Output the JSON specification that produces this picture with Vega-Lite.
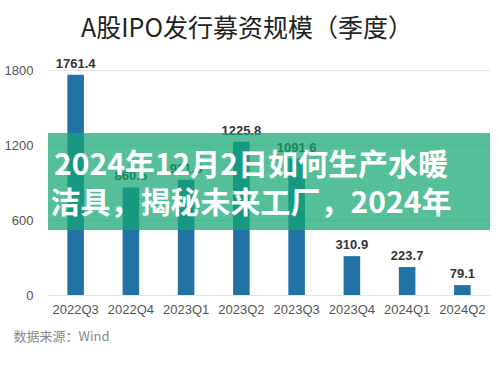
{
  "$schema": "https://vega.github.io/schema/vega-lite/v6.json",
  "width": 442,
  "height": 225,
  "autosize": "none",
  "padding": {"left": 48, "top": 70, "right": 9, "bottom": 70},
  "background": "white",
  "title": {
    "text": "A股IPO发行募资规模（季度）",
    "font": "Noto Sans CJK SC",
    "fontSize": 25,
    "fontWeight": "normal",
    "color": "#222222",
    "anchor": "middle",
    "frame": "bounds",
    "offset": 16
  },
  "config": {
    "view": {"stroke": null},
    "font": "Liberation Sans"
  },
  "layer": [
    {
      "data": {
        "values": [
          {"quarter": "2022Q3", "amount": 1761.4},
          {"quarter": "2022Q4", "amount": 860.5},
          {"quarter": "2023Q1", "amount": 921.6},
          {"quarter": "2023Q2", "amount": 1225.8},
          {"quarter": "2023Q3", "amount": 1091.6},
          {"quarter": "2023Q4", "amount": 310.9},
          {"quarter": "2024Q1", "amount": 223.7},
          {"quarter": "2024Q2", "amount": 79.1}
        ]
      },
      "encoding": {
        "x": {
          "field": "quarter",
          "type": "ordinal",
          "sort": null,
          "scale": {"paddingInner": 0.7, "paddingOuter": 0.35},
          "axis": {
            "labelAngle": 0,
            "labelFontSize": 13,
            "labelColor": "#555555",
            "labelPadding": 8,
            "ticks": false,
            "domain": false,
            "title": "数据来源：Wind",
            "titleFont": "Noto Sans CJK SC",
            "titleFontSize": 13,
            "titleFontWeight": "normal",
            "titleColor": "#8a8a8a",
            "titleAnchor": "start",
            "titleAlign": "left",
            "titleX": -35,
            "titlePadding": 14
          }
        },
        "y": {
          "field": "amount",
          "type": "quantitative",
          "scale": {"domain": [0, 1800], "nice": false},
          "axis": {
            "values": [0, 600, 1200, 1800],
            "format": "d",
            "title": null,
            "domain": false,
            "ticks": false,
            "labelPadding": 15,
            "labelFontSize": 13,
            "labelColor": "#555555",
            "gridColor": "#e3e3e3",
            "gridWidth": 1.2
          }
        }
      },
      "layer": [
        {"mark": {"type": "bar", "color": "#2372a6"}},
        {
          "mark": {"type": "text", "baseline": "bottom", "dy": -4, "fontSize": 13, "fontWeight": "bold", "color": "#333333"},
          "encoding": {"text": {"field": "amount", "type": "quantitative", "format": ".1f"}}
        }
      ]
    },
    {
      "data": {"values": [{"line1": "2024年12月2日如何生产水暖", "line2": "洁具，揭秘未来工厂，2024年"}]},
      "layer": [
        {
          "mark": {"type": "rect", "color": "#14a672", "opacity": 0.72},
          "encoding": {
            "y": {"datum": 1296},
            "y2": {"datum": 520}
          }
        },
        {
          "mark": {"type": "text", "font": "Noto Sans CJK SC", "fontWeight": "bold", "fontSize": 30, "color": "white", "baseline": "middle", "align": "center", "dx": -18},
          "encoding": {"y": {"datum": 1030}, "text": {"field": "line1"}}
        },
        {
          "mark": {"type": "text", "font": "Noto Sans CJK SC", "fontWeight": "bold", "fontSize": 30, "color": "white", "baseline": "middle", "align": "center", "dx": -18},
          "encoding": {"y": {"datum": 728}, "text": {"field": "line2"}}
        }
      ]
    }
  ]
}
